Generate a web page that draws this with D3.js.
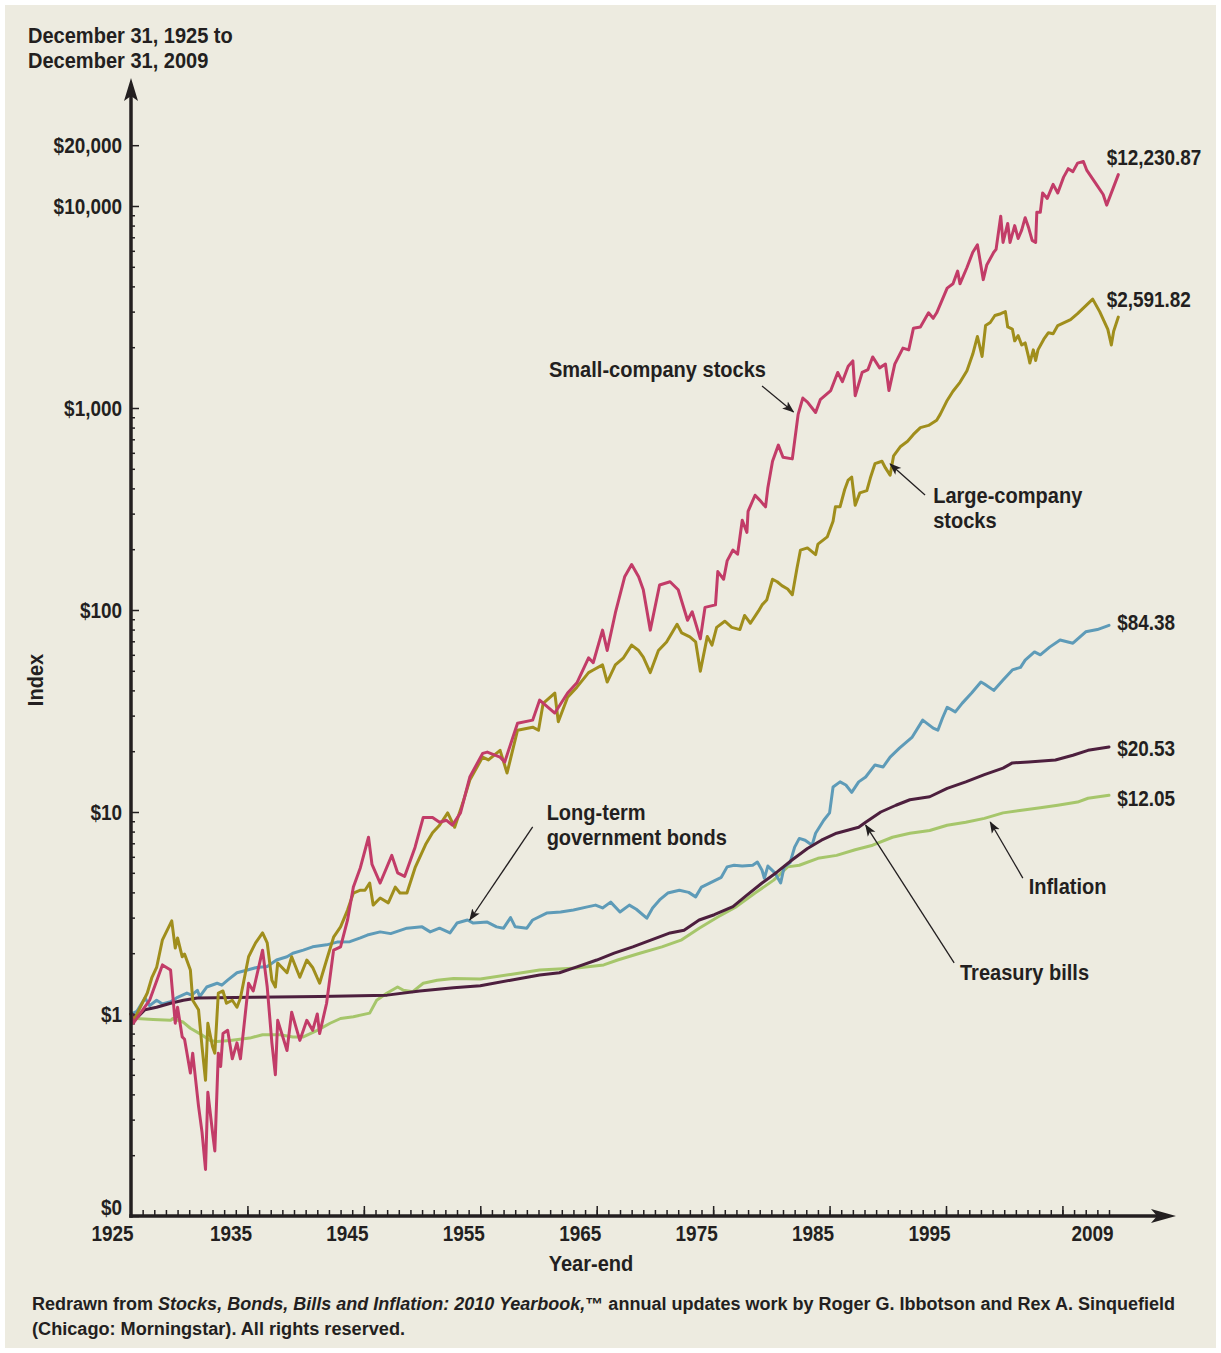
<!DOCTYPE html>
<html lang="en">
<head>
<meta charset="utf-8" />
<title>Wealth indices of investments in the U.S. capital markets, 1925-2009</title>
<script src="https://cdnjs.cloudflare.com/ajax/libs/d3/7.8.5/d3.min.js"></script>
<style>
    body { margin: 0; background: #ffffff; }
    svg text {
        font-family: "Liberation Sans", Arial, sans-serif;
        font-weight: bold;
        font-size: 22px;
        fill: #231f20;
    }
    svg .tick line { stroke: #231f20; stroke-width: 1.5; }
    svg .foot { font-size: 17.5px; }
</style>
</head>
<body>
<script>
// ---- data: [year-end (decimal), index value] ----
var smallStocks = [
    [1925.0,1.0],[1925.2,0.9],[1926.6,1.17],[1927.7,1.75],[1928.4,1.65],[1928.8,0.9],[1929.0,1.08],[1929.4,0.77],
    [1929.6,0.75],[1930.1,0.51],[1930.3,0.64],[1930.8,0.35],[1931.1,0.26],[1931.4,0.17],[1931.6,0.41],[1932.0,0.26],
    [1932.2,0.21],[1932.5,0.64],[1932.7,0.55],[1932.9,0.8],[1933.3,0.83],[1933.7,0.6],[1934.1,0.72],[1934.4,0.6],
    [1935.1,1.42],[1935.5,1.3],[1936.3,2.07],[1936.7,1.36],[1937.1,0.72],[1937.4,0.5],[1937.6,0.93],[1938.4,0.66],
    [1938.8,1.02],[1939.5,0.74],[1940.1,0.93],[1940.6,0.83],[1941.0,1.0],[1941.2,0.8],[1941.8,1.13],[1942.4,2.07],
    [1943.0,2.15],[1943.6,2.92],[1944.1,4.25],[1944.7,5.3],[1945.4,7.5],[1945.7,5.5],[1946.4,4.45],[1947.4,6.1],
    [1947.9,5.0],[1948.5,4.8],[1949.4,6.7],[1950.1,9.4],[1950.9,9.4],[1951.5,8.9],[1952.1,9.1],[1952.6,8.6],
    [1953.3,9.9],[1954.1,14.9],[1955.2,19.5],[1955.6,19.8],[1956.7,18.7],[1957.1,17.7],[1958.2,27.5],[1959.5,28.5],
    [1960.1,35.8],[1961.4,30.9],[1962.5,38.8],[1963.3,43.6],[1964.3,58],[1964.7,54.8],[1965.5,79.5],[1965.9,63],
    [1966.6,96.7],[1967.4,146],[1968.0,168],[1968.6,146],[1969.0,126],[1969.6,79.5],[1970.4,133],[1971.3,138],
    [1972.0,126],[1972.8,89],[1973.2,98],[1973.9,72],[1974.3,103],[1975.2,106],[1975.4,155],[1975.9,142],
    [1976.2,175],[1976.7,198],[1977.1,189],[1977.5,278],[1977.9,242],[1978.0,308],[1978.6,370],[1979.0,350],
    [1979.5,324],[1979.7,403],[1980.1,545],[1980.6,655],[1981.0,570],[1981.8,560],[1982.3,930],[1982.7,1120],
    [1983.1,1070],[1983.8,950],[1984.2,1100],[1985.1,1220],[1985.7,1500],[1986.1,1350],[1986.6,1610],[1987.0,1710],
    [1987.2,1150],[1987.8,1500],[1988.3,1550],[1988.7,1790],[1989.3,1580],[1989.8,1650],[1990.1,1220],[1990.6,1650],
    [1991.3,1980],[1991.8,1940],[1992.2,2480],[1992.8,2520],[1993.5,2960],[1993.9,2780],[1994.2,2960],[1995.1,3920],
    [1995.6,4120],[1996.0,4760],[1996.2,4120],[1996.8,4960],[1997.3,5900],[1997.7,6420],[1998.2,4320],[1998.5,5100],
    [1999.1,5900],[1999.3,6100],[1999.7,8900],[1999.9,6600],[2000.3,8200],[2000.5,6600],[2000.9,8000],[2001.2,6900],
    [2001.5,7600],[2001.8,8750],[2002.1,7800],[2002.4,6760],[2002.7,6600],[2002.8,9300],[2003.1,9300],[2003.3,11600],
    [2003.7,10900],[2004.2,12800],[2004.6,11600],[2005.1,13900],[2005.5,15300],[2005.9,14800],[2006.3,16300],[2006.8,16600],
    [2007.1,15000],[2007.8,13100],[2008.5,11400],[2008.8,10100],[2009.8,14300]
];
var largeStocks = [
    [1925.0,1.0],[1925.2,0.92],[1926.4,1.27],[1926.8,1.52],[1927.2,1.7],[1927.7,2.33],[1928.5,2.89],[1928.8,2.12],
    [1929.0,2.38],[1929.4,1.92],[1929.6,1.98],[1930.1,1.65],[1930.3,1.17],[1930.8,1.05],[1931.1,0.69],[1931.4,0.47],
    [1931.6,0.9],[1932.0,0.69],[1932.2,0.64],[1932.5,1.27],[1932.9,1.3],[1933.2,1.13],[1933.7,1.17],[1934.1,1.08],
    [1934.4,1.2],[1935.1,1.92],[1935.7,2.25],[1936.3,2.52],[1936.7,2.25],[1937.1,1.47],[1937.4,1.36],[1937.6,1.79],
    [1938.4,1.6],[1938.8,1.92],[1939.5,1.52],[1940.1,1.85],[1940.6,1.7],[1941.2,1.42],[1941.8,1.85],[1942.4,2.4],
    [1943.0,2.7],[1943.6,3.27],[1944.1,3.97],[1944.7,4.1],[1945.1,4.1],[1945.5,4.45],[1945.8,3.46],[1946.4,3.75],
    [1947.1,3.55],[1947.7,4.25],[1948.1,3.97],[1948.7,3.97],[1949.4,5.3],[1950.3,6.9],[1950.9,7.9],[1951.5,8.6],
    [1952.2,9.9],[1952.8,8.4],[1953.5,11.1],[1954.1,14.4],[1955.2,18.7],[1955.7,18.1],[1956.7,20.2],[1957.3,15.6],
    [1958.2,25.4],[1959.5,26.3],[1960.0,25.4],[1960.4,34.5],[1961.4,38.8],[1961.7,28],[1962.5,37],[1963.3,41.5],
    [1964.3,49],[1964.7,50.5],[1965.5,53.5],[1965.9,44],[1966.6,53.5],[1967.3,58],[1968.0,67],[1968.6,63],
    [1969.0,58.5],[1969.6,49],[1970.3,63],[1971.0,69.5],[1971.9,85],[1972.3,77],[1973.0,73.6],[1973.5,69.5],
    [1973.9,49.8],[1974.5,74],[1974.9,67],[1975.3,82],[1976.0,88],[1976.6,82],[1977.3,80],[1977.7,94],
    [1978.2,86],[1978.9,99],[1979.2,106],[1979.6,112],[1980.1,142],[1980.5,138],[1980.9,132],[1981.4,127],
    [1981.8,119],[1982.2,161],[1982.5,198],[1983.1,203],[1983.8,188],[1984.0,212],[1984.8,230],[1985.3,275],
    [1985.5,324],[1985.9,324],[1986.3,395],[1986.6,440],[1986.9,455],[1987.2,330],[1987.6,380],[1988.2,390],
    [1988.5,450],[1988.9,530],[1989.5,545],[1989.8,505],[1990.2,465],[1990.5,580],[1991.1,645],[1991.7,685],
    [1992.2,740],[1992.8,800],[1993.5,820],[1994.2,870],[1994.5,930],[1995.1,1090],[1995.6,1210],[1996.2,1340],
    [1996.8,1530],[1997.3,1850],[1997.7,2260],[1998.1,1800],[1998.4,2560],[1998.8,2650],[1999.2,2870],[1999.7,2930],
    [2000.1,3000],[2000.3,2520],[2000.7,2460],[2000.9,2150],[2001.2,2280],[2001.5,2050],[2001.8,2100],[2002.1,1780],
    [2002.2,1670],[2002.5,1940],[2002.7,1720],[2002.9,1940],[2003.4,2190],[2003.8,2360],[2004.2,2330],[2004.6,2560],
    [2005.7,2740],[2006.3,2930],[2007.6,3460],[2008.2,3000],[2008.9,2450],[2009.2,2050],[2009.4,2400],[2009.8,2820]
];
var govBonds = [
    [1925.0,1.0],[1925.5,1.03],[1926.2,1.2],[1926.6,1.1],[1927.2,1.17],[1927.7,1.12],[1928.4,1.15],[1929.0,1.21],
    [1929.8,1.27],[1930.2,1.24],[1930.7,1.31],[1930.9,1.22],[1931.5,1.36],[1932.4,1.42],[1932.8,1.39],[1933.3,1.47],
    [1934.1,1.6],[1935.0,1.65],[1935.8,1.7],[1936.7,1.72],[1937.5,1.85],[1938.4,1.92],[1938.9,2.0],[1939.8,2.07],
    [1940.6,2.15],[1941.8,2.2],[1942.7,2.27],[1943.8,2.28],[1944.7,2.38],[1945.3,2.46],[1946.4,2.55],[1947.3,2.5],
    [1948.7,2.66],[1950.0,2.7],[1950.7,2.55],[1951.5,2.66],[1952.4,2.52],[1953.0,2.82],[1953.9,2.92],[1954.4,2.82],
    [1955.6,2.85],[1956.4,2.7],[1957.0,2.66],[1957.6,3.0],[1958.0,2.7],[1959.0,2.66],[1959.5,2.92],[1960.7,3.16],
    [1961.9,3.2],[1963.0,3.27],[1964.2,3.39],[1964.9,3.46],[1965.5,3.35],[1966.2,3.58],[1967.0,3.2],[1967.8,3.46],
    [1968.4,3.3],[1969.3,2.98],[1969.8,3.35],[1970.4,3.67],[1971.1,3.97],[1972.1,4.1],[1972.9,4.0],[1973.5,3.8],
    [1974.0,4.25],[1974.7,4.45],[1975.7,4.75],[1976.2,5.35],[1976.8,5.45],[1977.5,5.4],[1978.4,5.45],[1978.8,5.65],
    [1979.2,5.15],[1979.4,4.7],[1979.7,5.4],[1980.3,5.0],[1980.8,4.45],[1981.1,5.35],[1981.6,5.6],[1982.0,6.7],
    [1982.4,7.4],[1982.9,7.25],[1983.5,6.85],[1983.8,7.85],[1984.5,9.1],[1985.0,9.9],[1985.3,13.3],[1985.9,14.1],
    [1986.4,13.6],[1986.9,12.5],[1987.5,14.1],[1988.1,14.9],[1988.9,17.1],[1989.6,16.7],[1990.2,18.7],[1991.0,20.7],
    [1991.5,21.9],[1992.1,23.5],[1993.0,28.5],[1993.9,26],[1994.3,25.4],[1994.7,29.2],[1995.1,33],[1995.8,31.3],
    [1996.4,34.6],[1997.2,38.8],[1998.0,44],[1998.3,43],[1999.1,40],[1999.9,45],[2000.7,50.5],[2001.4,52],
    [2001.8,56.5],[2002.6,62],[2003.1,60],[2003.9,65.5],[2004.8,71],[2005.9,68.5],[2007.0,78],[2008.0,80],[2009.0,84]
];
var treasuryBills = [
    [1925.0,1.0],[1925.6,0.97],[1926.2,1.05],[1927.2,1.08],[1928.4,1.13],[1929.5,1.17],[1930.7,1.2],[1935.5,1.21],
    [1941.2,1.22],[1947.0,1.24],[1949.8,1.3],[1952.7,1.35],[1955.0,1.38],[1957.6,1.47],[1960.1,1.56],[1961.8,1.6],
    [1963.3,1.71],[1965.0,1.85],[1966.5,2.0],[1968.1,2.15],[1969.7,2.33],[1971.3,2.52],[1972.5,2.6],[1973.8,2.92],
    [1975.1,3.1],[1976.7,3.4],[1977.9,3.88],[1979.2,4.45],[1980.5,5.05],[1981.8,5.8],[1983.1,6.6],[1984.3,7.25],
    [1985.6,7.85],[1987.5,8.4],[1988.1,8.9],[1989.4,10.0],[1990.7,10.8],[1991.9,11.5],[1993.6,11.9],[1995.1,13.1],
    [1996.7,14.1],[1998.3,15.3],[1999.9,16.5],[2000.7,17.5],[2002.1,17.7],[2004.4,18.1],[2005.9,19.1],[2007.2,20.2],
    [2009.0,21.0]
];
var inflation = [
    [1925.0,1.0],[1925.5,0.95],[1926.9,0.94],[1928.4,0.93],[1928.6,0.95],[1929.5,0.91],[1930.1,0.85],[1930.9,0.8],
    [1931.8,0.74],[1932.4,0.73],[1933.5,0.74],[1935.2,0.76],[1936.3,0.79],[1937.8,0.79],[1938.9,0.77],[1939.8,0.77],
    [1941.0,0.83],[1942.1,0.9],[1943.0,0.95],[1944.1,0.97],[1945.5,1.01],[1946.1,1.17],[1947.0,1.27],[1947.9,1.36],
    [1948.4,1.31],[1949.2,1.29],[1950.1,1.42],[1951.3,1.47],[1952.7,1.5],[1955.0,1.49],[1957.6,1.57],[1960.1,1.65],
    [1963.3,1.69],[1965.6,1.75],[1966.8,1.85],[1968.7,2.0],[1970.6,2.15],[1972.3,2.33],[1973.8,2.66],[1975.4,3.02],
    [1977.0,3.4],[1978.6,3.97],[1980.2,4.6],[1981.4,5.35],[1982.4,5.45],[1984.0,5.9],[1985.6,6.1],[1987.2,6.5],
    [1988.7,6.85],[1990.4,7.5],[1991.9,7.85],[1993.6,8.1],[1995.1,8.6],[1996.7,8.9],[1998.3,9.3],[1999.9,9.9],
    [2001.5,10.2],[2003.1,10.5],[2004.6,10.8],[2006.3,11.2],[2007.2,11.7],[2009.0,12.1]
];

var endValues = ['$12,230.87', '$2,591.82', '$84.38', '$20.53', '$12.05'];
var yMajor = [0.1, 1, 10, 100, 1000, 10000, 20000];
var xMajor = [1935, 1945, 1955, 1965, 1975, 1985, 1995, 2005];
var xLabelYears = [1925, 1935, 1945, 1955, 1965, 1975, 1985, 1995, 2009];

// ---- layout ----
var W = 1221, H = 1353, ink = '#231f20';

var svg = d3.select('body').append('svg')
    .attr('width', W)
    .attr('height', H);

svg.append('rect')
    .attr('x', 5).attr('y', 5)
    .attr('width', W - 10).attr('height', H - 10)
    .attr('fill', '#edebe0');

var x = d3.scaleLinear().domain([1925, 2009]).range([131, 1109]);
var y = d3.scaleLog().domain([0.1, 10000]).range([1216, 206]);
var x0 = x(1925), y0 = y(0.1);

// minor y ticks: 2..9 in each decade
var yMinor = [];
for (var p = -1; p <= 3; p++) {
    for (var m = 2; m <= 9; m++) yMinor.push(+(m * Math.pow(10, p)).toPrecision(3));
}

function noDomain(g) { g.select('.domain').remove(); }

// y axis
svg.append('g')
    .attr('transform', 'translate(' + x0 + ',0)')
    .call(d3.axisLeft(y).tickValues(yMinor).tickSize(-4).tickFormat(''))
    .call(noDomain);

var yAxis = svg.append('g')
    .attr('class', 'num')
    .attr('transform', 'translate(' + x0 + ',0)')
    .call(d3.axisLeft(y).tickValues(yMajor).tickSize(-8).tickPadding(9)
        .tickFormat(function(d) { return d < 1 ? '$0' : '$' + d3.format(',')(d); }))
    .call(noDomain);
yAxis.selectAll('text').attr('dy', function(d) { return d < 1 ? '-0.05em' : '0.35em'; });

// x axis ticks
svg.append('g')
    .attr('transform', 'translate(0,' + y0 + ')')
    .call(d3.axisBottom(x).tickValues(d3.range(1926, 2010)).tickSize(-6).tickFormat(''))
    .call(noDomain);
svg.append('g')
    .attr('transform', 'translate(0,' + y0 + ')')
    .call(d3.axisBottom(x).tickValues(xMajor).tickSize(-10).tickFormat(''))
    .call(noDomain);

// x labels sit a little left of their ticks, like the original
var xLab = svg.append('g')
    .attr('class', 'num')
    .attr('transform', 'translate(0,' + y0 + ')')
    .call(d3.axisBottom(x).tickValues(xLabelYears).tickSize(0).tickPadding(9).tickFormat(d3.format('d')))
    .call(noDomain);
xLab.selectAll('text')
    .attr('dx', function(d) { return d === 1925 ? 2 : -17; })
    .attr('text-anchor', function(d) { return d === 1925 ? 'end' : 'middle'; });

// series lines
var series = [
    { data: inflation,     color: '#a6c66b' },
    { data: govBonds,      color: '#5e9bb8' },
    { data: treasuryBills, color: '#4d1f3e' },
    { data: largeStocks,   color: '#a08e1c' },
    { data: smallStocks,   color: '#c23c68' }
];

var line = d3.line()
    .x(function(d) { return x(d[0]); })
    .y(function(d) { return y(d[1]); });

svg.append('g').selectAll('path')
    .data(series)
    .enter()
    .append('path')
    .attr('d', function(s) { return line(s.data); })
    .attr('fill', 'none')
    .attr('stroke', function(s) { return s.color; })
    .attr('stroke-width', 3)
    .attr('stroke-linejoin', 'round')
    .attr('stroke-linecap', 'round');

// axis lines with arrow heads
svg.append('line')
    .attr('x1', x0).attr('y1', y0 + 1.75)
    .attr('x2', x0).attr('y2', 95)
    .attr('stroke', ink).attr('stroke-width', 3.5);
svg.append('path')
    .attr('d', 'M' + x0 + ',78 L' + (x0 - 7) + ',101 L' + x0 + ',96 L' + (x0 + 7) + ',101 Z')
    .attr('fill', ink);
svg.append('line')
    .attr('x1', x0 - 1.75).attr('y1', y0)
    .attr('x2', 1158).attr('y2', y0)
    .attr('stroke', ink).attr('stroke-width', 3.5);
svg.append('path')
    .attr('d', 'M1176,' + y0 + ' L1151,' + (y0 - 7) + ' L1157,' + y0 + ' L1151,' + (y0 + 7) + ' Z')
    .attr('fill', ink);

// value labels at the right end of each line
var endPos = [[2008.8, 17500], [2008.8, 3465], [2009.7, 87.2], [2009.7, 20.7], [2009.7, 11.7]];
svg.append('g')
    .attr('class', 'num')
    .selectAll('text')
    .data(endValues)
    .enter()
    .append('text')
    .attr('x', function(d, i) { return x(endPos[i][0]); })
    .attr('y', function(d, i) { return y(endPos[i][1]); })
    .attr('dy', '0.35em')
    .text(function(d) { return d; });

// annotations with arrows
svg.append('defs').append('marker')
    .attr('id', 'head')
    .attr('viewBox', '0 -5 12 10')
    .attr('refX', 11).attr('refY', 0)
    .attr('markerWidth', 12).attr('markerHeight', 10)
    .attr('markerUnits', 'userSpaceOnUse')
    .attr('orient', 'auto')
    .append('path')
    .attr('d', 'M0,-4.5L12,0L0,4.5L3,0Z')
    .attr('fill', ink);

var notes = [
    { lines: ['Small-company stocks'], at: [1960.9, 1560], from: [1979.2, 1285], to: [1981.9, 956] },
    { lines: ['Large-company', 'stocks'], at: [1993.9, 371], from: [1993.2, 371], to: [1990.2, 528] },
    { lines: ['Long-term', 'government bonds'], at: [1960.7, 10], from: [1959.5, 8.43], to: [1954.1, 2.92] },
    { lines: ['Inflation'], at: [2002.1, 4.3], from: [2001.6, 4.71], to: [1998.8, 8.92] },
    { lines: ['Treasury bills'], at: [1996.2, 1.6], from: [1995.7, 1.79], to: [1988.1, 8.62] }
];

notes.forEach(function(n) {
    svg.append('line')
        .attr('x1', x(n.from[0])).attr('y1', y(n.from[1]))
        .attr('x2', x(n.to[0])).attr('y2', y(n.to[1]))
        .attr('stroke', ink).attr('stroke-width', 1.3)
        .attr('marker-end', 'url(#head)');
    n.lines.forEach(function(s, i) {
        svg.append('text')
            .attr('class', 'word')
            .attr('x', x(n.at[0]))
            .attr('y', y(n.at[1]) + i * 25)
            .attr('dy', '0.35em')
            .text(s);
    });
});

// titles
svg.append('text').attr('class', 'word').attr('x', 28).attr('y', 43).text('December 31, 1925 to');
svg.append('text').attr('class', 'word').attr('x', 28).attr('y', 68).text('December 31, 2009');

svg.append('text')
    .attr('class', 'word')
    .attr('transform', 'translate(43,680) rotate(-90)')
    .attr('text-anchor', 'middle')
    .text('Index');

svg.append('text')
    .attr('class', 'word')
    .attr('x', 591).attr('y', 1271)
    .attr('text-anchor', 'middle')
    .text('Year-end');

// source note
var foot = svg.append('text')
    .attr('class', 'foot')
    .attr('x', 32).attr('y', 1310)
    .attr('textLength', 1143)
    .attr('lengthAdjust', 'spacingAndGlyphs');
foot.append('tspan').text('Redrawn from ');
foot.append('tspan').style('font-style', 'italic').text('Stocks, Bonds, Bills and Inflation: 2010 Yearbook,');
foot.append('tspan').text('\u2122 annual updates work by Roger G. Ibbotson and Rex A. Sinquefield');

svg.append('text')
    .attr('class', 'foot')
    .attr('x', 32).attr('y', 1335)
    .attr('textLength', 373)
    .attr('lengthAdjust', 'spacingAndGlyphs')
    .text('(Chicago: Morningstar). All rights reserved.');

// the original uses a condensed face: squeeze the regular bold glyphs
function condense(sel, k) {
    sel.each(function() {
        var w = this.getComputedTextLength();
        d3.select(this).attr('textLength', w * k).attr('lengthAdjust', 'spacingAndGlyphs');
    });
}
condense(svg.selectAll('.num text'), 0.86);
condense(svg.selectAll('text.word'), 0.91);
</script>
</body>
</html>
